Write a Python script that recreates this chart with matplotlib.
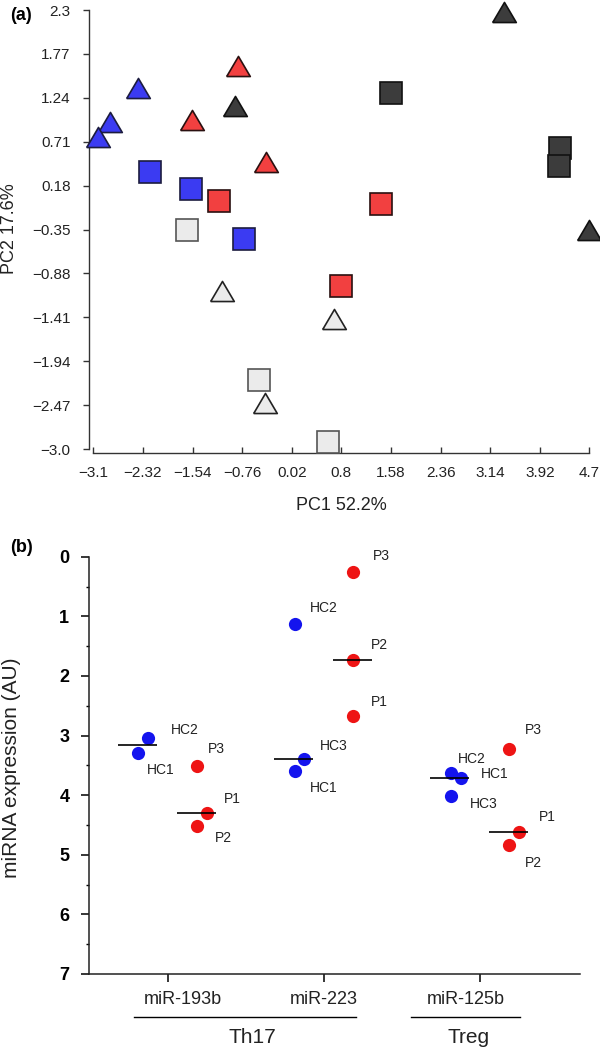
import numpy as np
import matplotlib
matplotlib.use("Agg")
import matplotlib.pyplot as plt
from matplotlib.transforms import blended_transform_factory

plt.rcParams['font.family'] = ['Liberation Sans', 'DejaVu Sans']

# ---------------- Panel (a) data: PCA scores ----------------
blue_tri_x = [-2.39, -2.84, -3.02]
blue_tri_y = [1.36, 0.95, 0.77]
blue_sq_x = [-2.21, -1.56, -0.73]
blue_sq_y = [0.34, 0.14, -0.46]
red_tri_x = [-0.83, -1.55, -0.39]
red_tri_y = [1.62, 0.97, 0.46]
red_sq_x = [-1.12, 1.43, 0.80]
red_sq_y = [0.00, -0.04, -1.03]
dark_tri_x = [3.35, -0.88, 4.70]
dark_tri_y = [2.27, 1.14, -0.35]
dark_sq_x = [1.58, 4.23, 4.22]
dark_sq_y = [1.30, 0.63, 0.42]
light_tri_x = [-1.07, 0.68, -0.40]
light_tri_y = [-1.09, -1.43, -2.45]
light_sq_x = [-1.62, -0.50, 0.59]
light_sq_y = [-0.36, -2.17, -2.91]

pc1_ticks = [-3.1, -2.32, -1.54, -0.76, 0.02, 0.8, 1.58, 2.36, 3.14, 3.92, 4.7]
pc1_labels = ["\u22123.1", "\u22122.32", "\u22121.54", "\u22120.76", "0.02", "0.8",
              "1.58", "2.36", "3.14", "3.92", "4.7"]
pc2_ticks = [2.3, 1.77, 1.24, 0.71, 0.18, -0.35, -0.88, -1.41, -1.94, -2.47, -3.0]
pc2_labels = ["2.3", "1.77", "1.24", "0.71", "0.18", "\u22120.35", "\u22120.88",
              "\u22121.41", "\u22121.94", "\u22122.47", "\u22123.0"]

# ---------------- Panel (b) data: miRNA expression ----------------
mirnas = ["miR-193b", "miR-223", "miR-125b"]
cat_pos = [1, 2, 3]
hc_x = [[0.877, 0.813], [1.815, 1.876, 1.815], [2.82, 2.882, 2.82]]
hc_y = [[3.04, 3.29], [1.13, 3.39, 3.60], [3.63, 3.71, 4.02]]
hc_names = [["HC2", "HC1"], ["HC2", "HC3", "HC1"], ["HC2", "HC1", "HC3"]]
p_x = [[1.189, 1.25, 1.189], [2.188, 2.188, 2.188], [3.188, 3.25, 3.188]]
p_y = [[3.506, 4.30, 4.51], [0.26, 1.73, 2.68], [3.22, 4.61, 4.83]]
p_names = [["P3", "P1", "P2"], ["P3", "P2", "P1"], ["P3", "P1", "P2"]]
cell_groups = ["Th17", "Treg"]

# label offsets in pixels (dx right, dy up) - layout only
hc_off = [[(22, 8), (8, -17)], [(15, 16), (16, 13), (15, -17)], [(6, 14), (20, 4), (18, -8)]]
p_off = [[(11, 17), (17, 14), (18, -12)], [(20, 16), (18, 15), (18, 14)], [(16, 19), (20, 15), (16, -18)]]

fig = plt.figure(figsize=(6, 10.5), dpi=100)

# ======== Panel (a) ========
ax1 = fig.add_axes([88.8 / 600, 1 - 453 / 1050, (594.7 - 88.8) / 600, (453 - 10) / 1050])
ax1.set_xlim(-3.171, 4.783)
ax1.set_ylim(-3.048, 2.3)

tri = [(-1, -0.85), (1, -0.85), (0, 0.85), (-1, -0.85)]
groups = [
    (blue_tri_x, blue_tri_y, tri, '#3b3bf2', '#1c1c40', 17),
    (blue_sq_x, blue_sq_y, 's', '#3b3bf2', '#1c1c40', 16),
    (red_tri_x, red_tri_y, tri, '#f24040', '#2a1010', 17),
    (red_sq_x, red_sq_y, 's', '#f24040', '#2a1010', 16),
    (dark_tri_x, dark_tri_y, tri, '#3c3c3c', '#111111', 17),
    (dark_sq_x, dark_sq_y, 's', '#3c3c3c', '#111111', 16),
    (light_tri_x, light_tri_y, tri, '#ebebeb', '#222222', 17),
    (light_sq_x, light_sq_y, 's', '#ebebeb', '#555555', 16),
]
for xs, ys, mk, fc, ec, ms in groups:
    ax1.plot(xs, ys, linestyle='none', marker=mk, markersize=ms,
             markerfacecolor=fc, markeredgecolor=ec, markeredgewidth=1.2,
             clip_on=False, zorder=3)

for s in ['top', 'right']:
    ax1.spines[s].set_visible(False)
for s in ['left', 'bottom']:
    ax1.spines[s].set_linewidth(1.0)
    ax1.spines[s].set_color('#333333')
ax1.spines['bottom'].set_bounds(-3.1, 4.7)
ax1.spines['left'].set_bounds(-3.0, 2.3)
ax1.set_xticks(pc1_ticks)
ax1.set_xticklabels(pc1_labels, fontsize=11, color='#222222')
ax1.set_yticks(pc2_ticks)
ax1.set_yticklabels(pc2_labels, fontsize=11, color='#222222')
ax1.tick_params(axis='x', direction='in', length=4, width=1, pad=9, colors='#333333',
                labelcolor='#222222')
ax1.tick_params(axis='y', direction='out', length=4, width=1, pad=9, colors='#333333',
                labelcolor='#222222')

fig.text(341 / 600, 1 - 505 / 1050, "PC1 52.2%", fontsize=13, ha='center', va='center',
         color='#222222')
fig.text(10 / 600, 1 - 229 / 1050, "PC2 17.6%", fontsize=13, ha='center', va='center',
         rotation=90, color='#222222')
fig.text(21 / 600, 1 - 16 / 1050, "(a)", fontsize=13, fontweight='bold', ha='center',
         va='center')

# ======== Panel (b) ========
ax2 = fig.add_axes([88.8 / 600, 1 - 974 / 1050, (580 - 88.8) / 600, (974 - 556.7) / 1050])
ax2.set_xlim(0.4949, 3.644)
ax2.set_ylim(7, 0)

for i in range(3):
    ax2.plot(hc_x[i], hc_y[i], linestyle='none', marker='o', markersize=9.5,
             color='#1414ee', markeredgewidth=0, zorder=3, clip_on=False)
    ax2.plot(p_x[i], p_y[i], linestyle='none', marker='o', markersize=9.5,
             color='#ee1414', markeredgewidth=0, zorder=3, clip_on=False)
    hm = np.median(hc_y[i])
    pm = np.median(p_y[i])
    ax2.hlines(hm, cat_pos[i] - 0.315, cat_pos[i] - 0.065, color='black', lw=1.2, zorder=4)
    ax2.hlines(pm, cat_pos[i] + 0.06, cat_pos[i] + 0.31, color='black', lw=1.2, zorder=4)
    for xv, yv, nm, off in zip(hc_x[i], hc_y[i], hc_names[i], hc_off[i]):
        ax2.annotate(nm, (xv, yv), xytext=off, textcoords='offset pixels',
                     ha='left', va='center', fontsize=10, color='#222222')
    for xv, yv, nm, off in zip(p_x[i], p_y[i], p_names[i], p_off[i]):
        ax2.annotate(nm, (xv, yv), xytext=off, textcoords='offset pixels',
                     ha='left', va='center', fontsize=10, color='#222222')

for s in ['top', 'right']:
    ax2.spines[s].set_visible(False)
for s in ['left', 'bottom']:
    ax2.spines[s].set_linewidth(1.1)
    ax2.spines[s].set_color('#222222')
ax2.set_yticks(range(0, 8))
ax2.set_yticklabels([str(v) for v in range(0, 8)], fontsize=13, fontweight='bold')
ax2.set_yticks(np.arange(0.5, 7, 1.0), minor=True)
ax2.tick_params(axis='y', which='major', direction='out', length=6, width=1.1, pad=8)
ax2.tick_params(axis='y', which='minor', direction='out', length=2.5, width=1.0)
ax2.set_xticks(cat_pos)
ax2.set_xticklabels([])
ax2.tick_params(axis='x', direction='out', length=6, width=1.1)

bt = blended_transform_factory(ax2.transData, ax2.transAxes)
cat_label_x = [1.10, 2.0, 2.91]
for name, xl in zip(mirnas, cat_label_x):
    ax2.text(xl, -0.0623, name, transform=bt, ha='center', va='center', fontsize=13,
             color='#222222')
ax2.plot([0.785, 2.208], [-0.102, -0.102], transform=bt, clip_on=False, color='black', lw=1.0)
ax2.plot([2.56, 3.26], [-0.102, -0.102], transform=bt, clip_on=False, color='black', lw=1.0)
ax2.text(1.545, -0.151, cell_groups[0], transform=bt, ha='center', va='center', fontsize=15,
         color='#222222')
ax2.text(2.932, -0.151, cell_groups[1], transform=bt, ha='center', va='center', fontsize=15,
         color='#222222')

fig.text(12 / 600, 1 - 768 / 1050, "miRNA expression (AU)", fontsize=15, ha='center',
         va='center', rotation=90, color='#222222')
fig.text(21 / 600, 1 - 547 / 1050, "(b)", fontsize=13, fontweight='bold', ha='center',
         va='center')

fig.savefig("out.png", dpi=100)
